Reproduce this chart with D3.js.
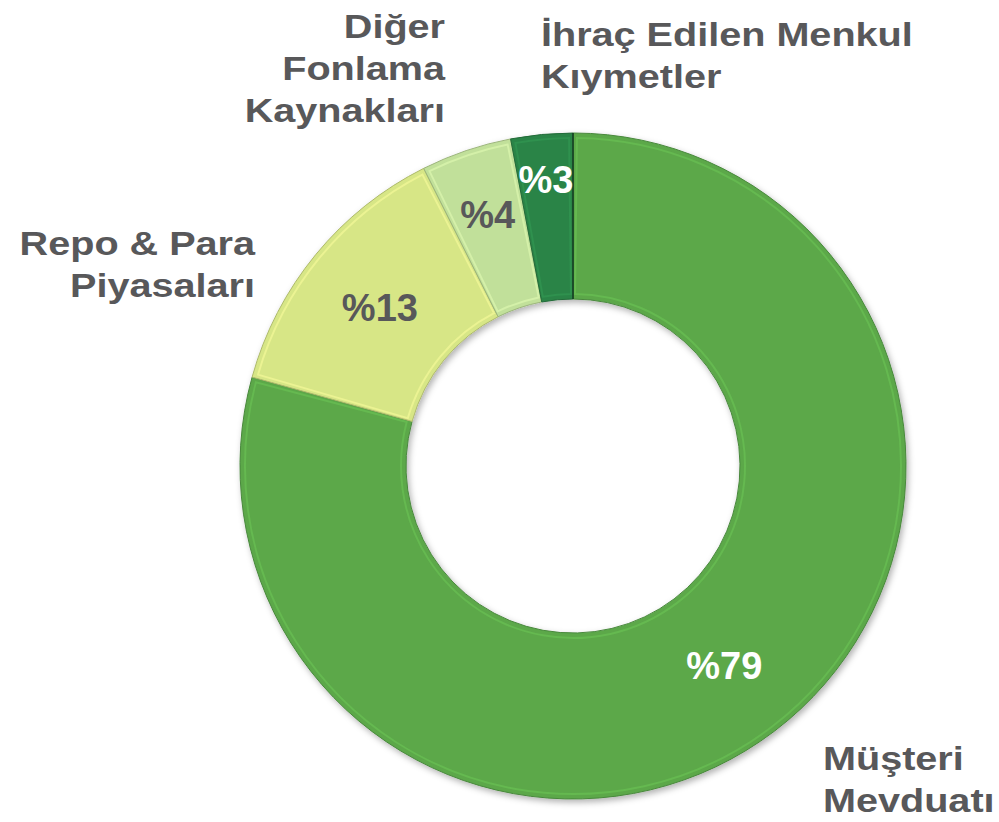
<!DOCTYPE html>
<html>
<head>
<meta charset="utf-8">
<script src="https://cdn.jsdelivr.net/npm/d3@7"></script>
<style>
  body { margin: 0; background: #fff; }
  text { font-family: "Liberation Sans", Arial, sans-serif; font-weight: bold; }
</style>
</head>
<body>
<div id="chart"></div>
<script>
// Funding structure (share, %)
const categories = ["Müşteri Mevduatı", "Repo & Para Piyasaları", "Diğer Fonlama Kaynakları", "İhraç Edilen Menkul Kıymetler"];
const values = [79.3, 13.3, 4.4, 3.0];
const valueLabels = ["%79", "%13", "%4", "%3"];
const colors = ["#5ba84a", "#d7e686", "#c1e09a", "#2b8447"];
const labelColors = ["#ffffff", "#58585a", "#58585a", "#ffffff"];

const width = 999, height = 822;
const cx = 573, cy = 466, outerR = 333, innerR = 167;

const svg = d3.select("#chart").append("svg")
  .attr("width", width)
  .attr("height", height);

// soft bevel/shadow look
const defs = svg.append("defs");
const f = defs.append("filter").attr("id", "shadow")
  .attr("x", "-10%").attr("y", "-10%").attr("width", "120%").attr("height", "120%");
f.append("feDropShadow").attr("dx", 2).attr("dy", 3).attr("stdDeviation", 3)
  .attr("flood-color", "#000").attr("flood-opacity", 0.3);

const pie = d3.pie().sort(null).value(d => d);
const arcs = pie(values);

const arc = d3.arc().innerRadius(innerR).outerRadius(outerR);
const bevel = d3.arc().innerRadius(innerR + 5).outerRadius(outerR - 5);

const g = svg.append("g").attr("transform", `translate(${cx},${cy})`);

g.append("g").attr("filter", "url(#shadow)")
  .selectAll("path")
  .data(arcs)
  .join("path")
  .attr("d", arc)
  .attr("fill", (d, i) => colors[i])
  .attr("stroke", (d, i) => d3.color(colors[i]).darker(0.6))
  .attr("stroke-width", 1);

// inner highlight edge
g.append("g")
  .selectAll("path")
  .data(arcs)
  .join("path")
  .attr("d", d => bevel({...d, startAngle: d.startAngle + 0.012, endAngle: d.endAngle - 0.012}))
  .attr("fill", "none")
  .attr("stroke", (d, i) => d3.color(colors[i]).brighter(0.5))
  .attr("stroke-opacity", 0.5)
  .attr("stroke-width", 2);

// separator between last and first slice
g.append("line")
  .attr("x1", 0).attr("y1", -innerR)
  .attr("x2", 0).attr("y2", -outerR)
  .attr("stroke", "#173d22").attr("stroke-width", 1.5);

// percentage labels (small slices pushed out a bit)
const labelR = [250, 250, 266, 288];
g.selectAll("text.pct")
  .data(arcs)
  .join("text")
  .attr("class", "pct")
  .attr("x", (d, i) => d3.arc().innerRadius(labelR[i]).outerRadius(labelR[i]).centroid(d)[0])
  .attr("y", (d, i) => d3.arc().innerRadius(labelR[i]).outerRadius(labelR[i]).centroid(d)[1])
  .attr("text-anchor", "middle")
  .attr("dy", "0.36em")
  .attr("fill", (d, i) => labelColors[i])
  .attr("font-size", 38)
  .text((d, i) => valueLabels[i]);

// category labels (text in the original is stretched wide)
const catLines = [
  ["Müşteri", "Mevduatı"],
  ["Repo & Para", "Piyasaları"],
  ["Diğer", "Fonlama", "Kaynakları"],
  ["İhraç Edilen Menkul", "Kıymetler"]
];
const catPos = [
  { x: 823, y: 770, anchor: "start" },
  { x: 255, y: 255, anchor: "end" },
  { x: 445, y: 38, anchor: "end" },
  { x: 541, y: 46, anchor: "start" }
];
catLines.forEach((lines, i) => {
  const t = svg.append("g")
    .attr("transform", `translate(${catPos[i].x},${catPos[i].y}) scale(1.2,1)`)
    .append("text")
    .attr("text-anchor", catPos[i].anchor)
    .attr("fill", "#58585a")
    .attr("font-size", 33);
  lines.forEach((ln, j) => {
    t.append("tspan")
      .attr("x", 0)
      .attr("dy", j === 0 ? 0 : 42)
      .text(ln);
  });
});
</script>
</body>
</html>
